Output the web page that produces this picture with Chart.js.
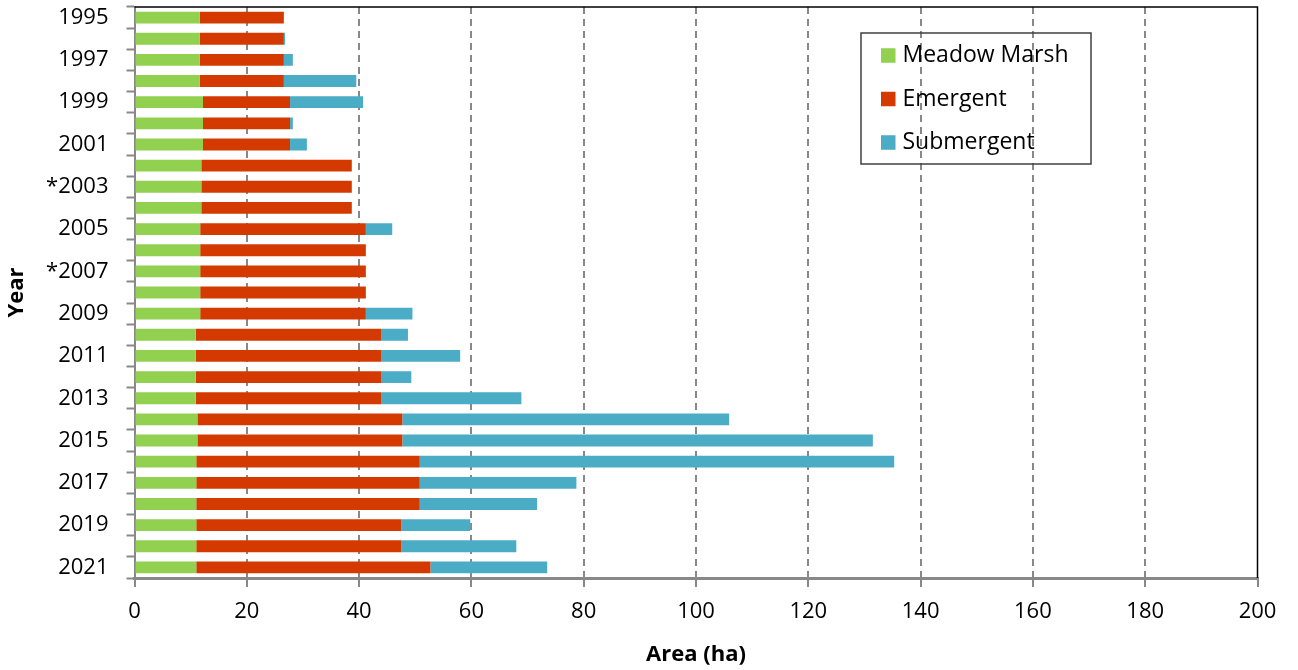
<!DOCTYPE html>
<html>
<head>
<meta charset="utf-8">
<script src="https://cdn.jsdelivr.net/npm/chart.js@4"></script>
<style>
  html, body { margin: 0; padding: 0; background: #ffffff; }
  #wrap { width: 1298px; height: 670px; }
</style>
</head>
<body>
<div id="wrap"><canvas id="c" width="1298" height="670"></canvas></div>
<script>
const years = ['1995','1996','1997','1998','1999','2000','2001','2002','*2003','2004','2005','2006','*2007','2008','2009','2010','2011','2012','2013','2014','2015','2016','2017','2018','2019','2020','2021'];
const meadowMarsh = [11.6,11.6,11.6,11.6,12.2,12.2,12.2,11.9,11.9,11.9,11.7,11.7,11.7,11.7,11.7,10.9,10.9,10.9,10.9,11.2,11.2,11.0,11.0,11.0,11.0,11.0,11.0];
const emergent = [15.0,15.0,15.0,15.0,15.5,15.5,15.5,26.8,26.8,26.8,29.5,29.5,29.5,29.5,29.5,33.0,33.0,33.0,33.0,36.5,36.5,39.8,39.8,39.8,36.5,36.5,41.7];
const submergent = [0,0.2,1.6,12.9,13.0,0.5,3.0,0,0,0,4.7,0,0,0,8.3,4.8,14.1,5.4,25.0,58.2,83.8,84.5,27.9,20.9,12.3,20.5,20.8];
const seriesNames = ['Meadow Marsh','Emergent','Submergent'];
const xMin = 0, xMax = 200, xStep = 20;
const xTitle = 'Area (ha)';
const yTitle = 'Year';

const FONT = '"Open Sans", Lato, sans-serif';
const GRAY = '#888888';

const boxLegend = {
  id: 'boxLegend',
  afterDraw(chart, args, opts) {
    const ctx = chart.ctx;
    const ca = chart.chartArea;
    const x = ca.left + opts.offsetX, y = ca.top + opts.offsetY;
    ctx.save();
    ctx.strokeStyle = '#404040';
    ctx.lineWidth = 1.5;
    ctx.strokeRect(x, y, opts.width, opts.height);
    ctx.font = opts.fontSize + 'px ' + FONT;
    ctx.textBaseline = 'middle';
    ctx.textAlign = 'left';
    chart.data.datasets.forEach((ds, i) => {
      const cy = y + opts.firstY + i * opts.spacing;
      ctx.fillStyle = ds.backgroundColor;
      ctx.fillRect(x + opts.swatchX, cy - opts.swatch / 2, opts.swatch, opts.swatch);
      ctx.fillStyle = '#000000';
      ctx.fillText(ds.label, x + opts.textX, cy);
    });
    ctx.restore();
  }
};

const frame = {
  id: 'frame',
  afterDatasetsDraw(chart) {
    const ctx = chart.ctx;
    const ca = chart.chartArea;
    ctx.save();
    ctx.strokeStyle = '#000000';
    ctx.lineWidth = 1.5;
    ctx.beginPath();
    ctx.moveTo(ca.left, ca.top);
    ctx.lineTo(ca.right, ca.top);
    ctx.lineTo(ca.right, ca.bottom);
    ctx.stroke();
    ctx.restore();
  }
};

new Chart(document.getElementById('c'), {
  type: 'bar',
  data: {
    labels: years,
    datasets: [
      { label: seriesNames[0], data: meadowMarsh, backgroundColor: '#92D050' },
      { label: seriesNames[1], data: emergent, backgroundColor: '#D43A00' },
      { label: seriesNames[2], data: submergent, backgroundColor: '#4BACC6' }
    ]
  },
  options: {
    indexAxis: 'y',
    responsive: false,
    animation: false,
    devicePixelRatio: 1,
    categoryPercentage: 1,
    barPercentage: 0.56,
    layout: { padding: { top: 7, right: 40.5, bottom: 0, left: 0 } },
    plugins: {
      legend: { display: false },
      tooltip: { enabled: false },
      boxLegend: { offsetX: 726.5, offsetY: 26, width: 230, height: 131, swatchX: 20, swatch: 14.5, textX: 41.5, firstY: 22.5, spacing: 43.5, fontSize: 23 }
    },
    scales: {
      x: {
        type: 'linear',
        stacked: true,
        min: xMin, max: xMax,
        ticks: { stepSize: xStep, color: '#000000', font: { family: FONT, size: 22 }, padding: 12 },
        grid: {
          color: (c) => (c.tick && (c.tick.value === xMin || c.tick.value === xMax)) ? 'rgba(0,0,0,0)' : GRAY,
          lineWidth: 2,
          drawTicks: true,
          tickLength: 9,
          tickColor: GRAY,
          tickWidth: 2
        },
        border: { display: true, color: GRAY, width: 3, dash: [7, 5] },
        title: { display: true, text: xTitle, color: '#000000', font: { family: FONT, size: 22, weight: 'bold' }, padding: { top: 4, bottom: 2 } },
        afterFit: (s) => { s.height = 92; s.paddingLeft = 0; s.paddingRight = 0; }
      },
      y: {
        type: 'category',
        stacked: true,
        ticks: {
          autoSkip: false,
          color: '#000000',
          font: { family: FONT, size: 22 },
          padding: 18,
          callback: function (v, i) { return i % 2 === 0 ? this.getLabelForValue(v) : ''; }
        },
        grid: {
          offset: true,
          drawOnChartArea: false,
          drawTicks: true,
          tickLength: 8,
          tickColor: GRAY,
          tickWidth: 2
        },
        border: { display: true, color: GRAY, width: 2 },
        title: { display: true, text: yTitle, color: '#000000', font: { family: FONT, size: 22, weight: 'bold' }, padding: { top: 4, bottom: 4 } },
        afterFit: (s) => { s.width = 134.5; s.paddingTop = 0; s.paddingBottom = 0; }
      }
    }
  },
  plugins: [frame, boxLegend]
});
</script>
</body>
</html>
